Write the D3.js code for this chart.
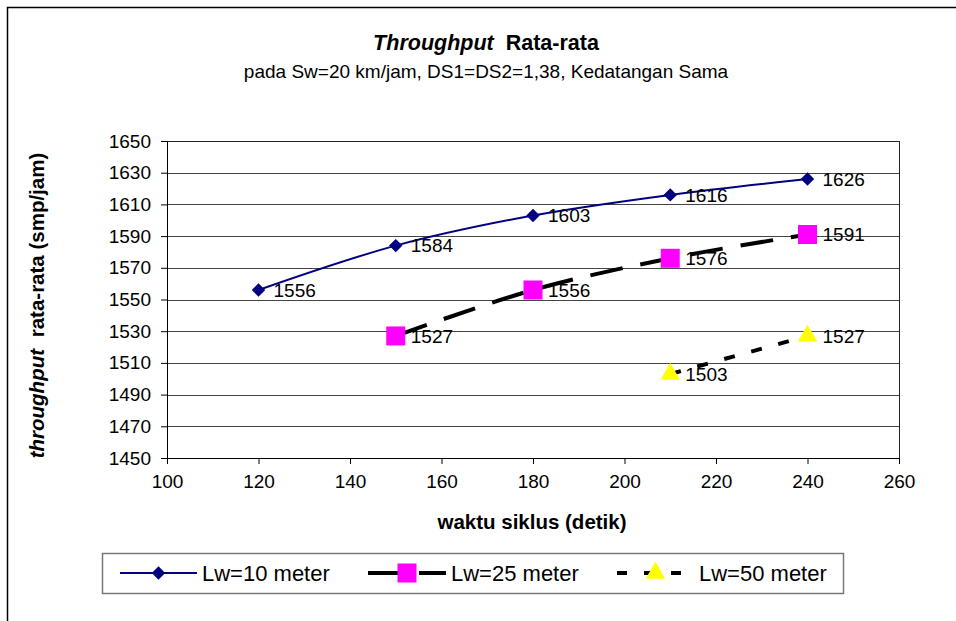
<!DOCTYPE html>
<html>
<head>
<meta charset="utf-8">
<script src="https://cdn.jsdelivr.net/npm/d3@7"></script>
<style>
  body { margin: 0; background: #fff; }
  svg text { font-family: "Liberation Sans", Arial, sans-serif; }
</style>
</head>
<body>
<script>
var cycleLw10 = [120, 150, 180, 210, 240];
var valLw10 = [1556, 1584, 1603, 1616, 1626];
var cycleLw25 = [150, 180, 210, 240];
var valLw25 = [1527, 1556, 1576, 1591];
var cycleLw50 = [210, 240];
var valLw50 = [1503, 1527];
var seriesNames = ["Lw=10 meter", "Lw=25 meter", "Lw=50 meter"];
var xTicks = [100, 120, 140, 160, 180, 200, 220, 240, 260];
var yTicks = [1450, 1470, 1490, 1510, 1530, 1550, 1570, 1590, 1610, 1630, 1650];

var W = 956, H = 621;
var margin = {top: 141, right: 57, bottom: 163, left: 167};
var w = W - margin.left - margin.right;
var h = H - margin.top - margin.bottom;

var svg = d3.select("body").append("svg")
    .attr("width", W)
    .attr("height", H);

// outer chart border (continues past the window)
svg.append("rect")
    .attr("x", 7.5).attr("y", 7.5)
    .attr("width", 960).attr("height", 640)
    .attr("fill", "none").attr("stroke", "#000").attr("stroke-width", 1.5);

var x = d3.scaleLinear().domain([100, 260]).range([0, w]);
var y = d3.scaleLinear().domain([1450, 1650]).range([h, 0]);

var g = svg.append("g")
    .attr("transform", "translate(" + margin.left + "," + margin.top + ")");

// gridlines
g.selectAll("line.grid")
    .data(yTicks)
    .enter().append("line")
    .attr("class", "grid")
    .attr("x1", 0).attr("x2", w)
    .attr("y1", function(d) { return Math.round(y(d)) + 0.5; })
    .attr("y2", function(d) { return Math.round(y(d)) + 0.5; })
    .attr("stroke", "#444").attr("stroke-width", 1);

// plot border
g.append("rect")
    .attr("x", 0.5).attr("y", 0.5)
    .attr("width", w).attr("height", h)
    .attr("fill", "none").attr("stroke", "#222").attr("stroke-width", 1);

var xAxis = g.append("g")
    .attr("transform", "translate(0," + h + ")")
    .call(d3.axisBottom(x).tickValues(xTicks).tickFormat(d3.format("d"))
        .tickSize(6).tickSizeOuter(0).tickPadding(11));
var yAxis = g.append("g")
    .call(d3.axisLeft(y).tickValues(yTicks).tickFormat(d3.format("d"))
        .tickSize(6).tickSizeOuter(0).tickPadding(10));

[xAxis, yAxis].forEach(function(ax) {
    ax.select(".domain").attr("stroke", "#000");
    ax.selectAll(".tick line").attr("stroke", "#000");
    ax.selectAll(".tick text")
        .attr("fill", "#000")
        .style("font-size", "19px")
        .style("font-family", "Liberation Sans, Arial, sans-serif");
});

function pairs(xs, ys) {
    return xs.map(function(d, i) { return {x: d, y: ys[i]}; });
}
var d10 = pairs(cycleLw10, valLw10);
var d25 = pairs(cycleLw25, valLw25);
var d50 = pairs(cycleLw50, valLw50);

var line = d3.line()
    .x(function(d) { return x(d.x); })
    .y(function(d) { return y(d.y); })
    .curve(d3.curveCatmullRom.alpha(0.5));

g.append("path").datum(d10).attr("d", line)
    .attr("fill", "none").attr("stroke", "#000080").attr("stroke-width", 2);
g.append("path").datum(d25).attr("d", line)
    .attr("fill", "none").attr("stroke", "#000").attr("stroke-width", 4)
    .attr("stroke-dasharray", "33,18");
g.append("path").datum(d50).attr("d", line)
    .attr("fill", "none").attr("stroke", "#000").attr("stroke-width", 4)
    .attr("stroke-dasharray", "11,17");

var diamond = d3.symbol().type(d3.symbolDiamond2).size(115);
var square = d3.symbol().type(d3.symbolSquare).size(361);
var triangle = d3.symbol().type(d3.symbolTriangle).size(165);

function markers(data, sym, fill) {
    g.selectAll(null).data(data).enter().append("path")
        .attr("d", sym)
        .attr("transform", function(d) { return "translate(" + x(d.x) + "," + y(d.y) + ")"; })
        .attr("fill", fill);
}
markers(d10, diamond, "#000080");
markers(d25, square, "#ff00ff");
markers(d50, triangle, "#ffff00");

function labels(data) {
    g.selectAll(null).data(data).enter().append("text")
        .attr("x", function(d) { return x(d.x) + 15; })
        .attr("y", function(d) { return y(d.y); })
        .attr("dy", "0.36em")
        .style("font-size", "19px")
        .attr("fill", "#000")
        .text(function(d) { return d.y; });
}
labels(d10);
labels(d25);
labels(d50);

// titles
var t = svg.append("text")
    .attr("x", 486).attr("y", 50)
    .attr("text-anchor", "middle")
    .style("font-size", "21.5px").style("font-weight", "bold");
t.append("tspan").style("font-style", "italic").text("Throughput");
t.append("tspan").attr("dx", 6).text(" Rata-rata");

svg.append("text")
    .attr("x", 486).attr("y", 78)
    .attr("text-anchor", "middle")
    .style("font-size", "19px")
    .text("pada Sw=20 km/jam, DS1=DS2=1,38, Kedatangan Sama");

svg.append("text")
    .attr("x", 532).attr("y", 529)
    .attr("text-anchor", "middle")
    .style("font-size", "20.5px").style("font-weight", "bold")
    .text("waktu siklus (detik)");

var yt = svg.append("text")
    .attr("transform", "translate(44," + (margin.top + h / 2 + 6) + ") rotate(-90)")
    .attr("text-anchor", "middle")
    .style("font-size", "20.5px").style("font-weight", "bold");
yt.append("tspan").style("font-style", "italic").text("throughput");
yt.append("tspan").attr("dx", 6).text(" rata-rata (smp/jam)");

// legend
var legend = svg.append("g");
legend.append("rect")
    .attr("x", 102.5).attr("y", 553.5)
    .attr("width", 741).attr("height", 40)
    .attr("fill", "#fff").attr("stroke", "#777").attr("stroke-width", 1.5);

var legY = 573;
var legItems = [
    {x0: 120, x1: 197, stroke: "#000080", sw: 2, dash: null, sym: diamond, fill: "#000080", tx: 202},
    {x0: 368, x1: 446, stroke: "#000", sw: 4, dash: "33,18", sym: square, fill: "#ff00ff", tx: 451},
    {x0: 617, x1: 684, stroke: "#000", sw: 4, dash: "10,17", sym: triangle, fill: "#ffff00", tx: 699}
];
legItems.forEach(function(it, i) {
    legend.append("line")
        .attr("x1", it.x0).attr("x2", it.x1)
        .attr("y1", legY).attr("y2", legY)
        .attr("stroke", it.stroke).attr("stroke-width", it.sw)
        .attr("stroke-dasharray", it.dash);
    legend.append("path")
        .attr("d", it.sym)
        .attr("transform", "translate(" + ((it.x0 + it.x1) / 2 + (i === 2 ? 5 : 0)) + "," + legY + ")")
        .attr("fill", it.fill);
    legend.append("text")
        .attr("x", it.tx).attr("y", legY)
        .attr("dy", "0.36em")
        .style("font-size", "22px")
        .text(seriesNames[i]);
});
</script>
</body>
</html>
